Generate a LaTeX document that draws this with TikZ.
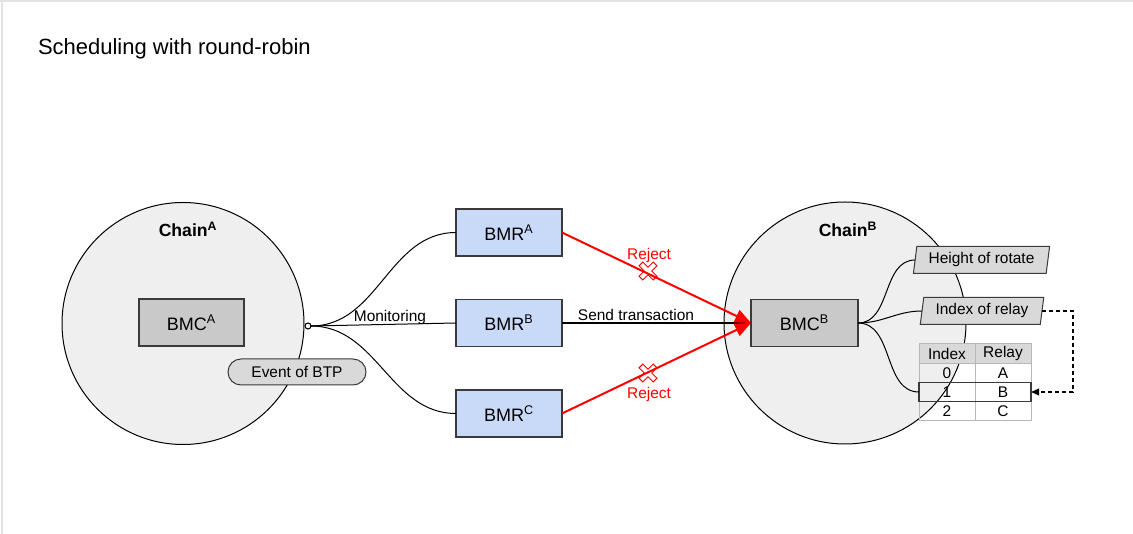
\documentclass[tikz,border=0pt]{standalone}
\usepackage{fontspec}
\setmainfont{Liberation Sans}
\usetikzlibrary{shapes.geometric,arrows.meta,calc}
\definecolor{circfill}{HTML}{EFEFEF}
\definecolor{bmcfill}{HTML}{C9C9C9}
\definecolor{bmrfill}{HTML}{C9DAF8}
\definecolor{lightfill}{HTML}{D9D9D9}
\definecolor{boxline}{HTML}{3A3A3A}
\definecolor{tabline}{HTML}{B7B7B7}
\definecolor{bordergray}{HTML}{E3E3E3}
\definecolor{rejred}{HTML}{FF0000}
\begin{document}
\begin{tikzpicture}[x=0.75pt,y=-0.75pt,
  every node/.style={inner sep=0pt,outer sep=0pt},
  chainc/.style={draw=black,line width=0.75pt,fill=circfill,circle,minimum size=181.5pt},
  chainlbl/.style={font=\bfseries\fontsize{13.2}{16}\selectfont,anchor=base},
  bmcbox/.style={draw=boxline,line width=0.9pt,fill=bmcfill,minimum height=35.25pt,font=\fontsize{13.5}{16}\selectfont},
  bmrbox/.style={draw=boxline,line width=0.9pt,fill=bmrfill,minimum width=79.5pt,minimum height=35.25pt,font=\fontsize{13.5}{16}\selectfont},
  small/.style={font=\fontsize{11.6}{14}\selectfont},
  para/.style={draw=boxline,line width=0.75pt,fill=lightfill,trapezium,trapezium left angle=79,trapezium right angle=101,trapezium stretches=true,minimum height=20.25pt,small},
  conn/.style={draw=black,line width=0.75pt},
  rej/.style={draw=rejred,line width=1.5pt,-{Triangle[length=12pt,width=10pt]}},
  cell/.style={draw=tabline,line width=0.75pt,minimum width=42pt,minimum height=14.25pt,small},
  hcell/.style={cell,fill=lightfill,minimum height=15pt},
  xcross/.style={draw=rejred,line width=0.7pt}
]
\useasboundingbox (0,0) rectangle (1133,534);
% slide border
\fill[bordergray] (0,0) rectangle (1133,1.6);
\fill[bordergray] (1,0) rectangle (3.4,534);
% title
\node[anchor=base west,font=\fontsize{16.5}{20}\selectfont] (title) at (38,55) {Scheduling with round-robin};
% chains
\node[chainc] (ca) at (183,323.5) {};
\node[chainc] (cb) at (845,323) {};
\node[chainlbl] (cal) at (188,236.5) {Chain\textsuperscript{A}};
\node[chainlbl] (cbl) at (848,236.5) {Chain\textsuperscript{B}};
% BMC boxes
\node[bmcbox,minimum width=78.75pt] (bmca) at (191.5,322.5) {BMC\textsuperscript{A}};
\node[bmcbox,minimum width=80.25pt] (bmcb) at (804.5,323) {BMC\textsuperscript{B}};
% event
\node[draw=boxline,line width=0.75pt,fill=lightfill,rounded corners=9.75pt,minimum width=103.5pt,minimum height=19.5pt,small] (ev) at (297,372) {Event of BTP};
% BMR boxes
\node[bmrbox] (bmra) at (509,232.5) {BMR\textsuperscript{A}};
\node[bmrbox] (bmrb) at (509,323) {BMR\textsuperscript{B}};
\node[bmrbox] (bmrc) at (509,413.5) {BMR\textsuperscript{C}};
% monitoring
\node[draw=black,line width=0.8pt,fill=white,circle,minimum size=4.5pt] (mon) at (308,326) {};
\draw[conn] (mon.east) to[out=0,in=180] (bmra.west);
\draw[conn] (mon.east) -- (bmrb.west);
\draw[conn] (mon.east) to[out=0,in=180] (bmrc.west);
\node[small,anchor=base] (monl) at (390,321.5) {Monitoring};
% send transaction
\draw[draw=black,line width=1.8pt] (bmrb.east) -- (bmcb.west);
\node[small,anchor=base] (sendl) at (636,321) {Send transaction};
% rejects
\draw[rej] (bmra.east) -- (bmcb.west);
\draw[rej] (bmrc.east) -- (bmcb.west);
\node[small,anchor=base,text=rejred] (rej1) at (649,259.5) {Reject};
\node[small,anchor=base,text=rejred] (rej2) at (649,398.5) {Reject};
\foreach \cx/\cy in {648/271,648/373}{
  \draw[xcross,shift={(\cx,\cy)},rotate=45]
    (2.7,10) -- (2.7,2.7) -- (10,2.7) -- (10,-2.7) -- (2.7,-2.7) -- (2.7,-10)
    -- (-2.7,-10) -- (-2.7,-2.7) -- (-10,-2.7) -- (-10,2.7) -- (-2.7,2.7) -- (-2.7,10) -- cycle;
}
% parallelograms
\node[para,minimum width=102.75pt] (hr) at (981.5,260) {Height of rotate};
\node[para,minimum width=93pt] (ir) at (982,311) {Index of relay};
% table
\node[hcell] (h1) at (947,353.5) {Index};
\node[hcell] (h2) at (1003,353.5) {Relay};
\node[cell] (a0) at (947,373) {0};
\node[cell] (b0) at (1003,373) {A};
\node[cell] (a1) at (947,392) {1};
\node[cell] (b1) at (1003,392) {B};
\node[cell] (a2) at (947,411) {2};
\node[cell] (b2) at (1003,411) {C};
\node[draw=boxline,line width=1.2pt,minimum width=84pt,minimum height=14.25pt] (r1) at (975,392) {};
% BMC B connectors
\draw[conn] (bmcb.east) to[out=0,in=180] (hr.west);
\draw[conn] (bmcb.east) to[out=0,in=180] (ir.west);
\draw[conn] (bmcb.east) to[out=0,in=180] (r1.west);
% dashed pointer
\coordinate (dv) at (1073,311);
\draw[draw=black,line width=0.9pt,dash pattern=on 3pt off 2.25pt,-{Triangle[length=6pt,width=5pt]}] (ir.east) -- (ir.east -| dv) |- (r1.east);
\end{tikzpicture}
\end{document}
